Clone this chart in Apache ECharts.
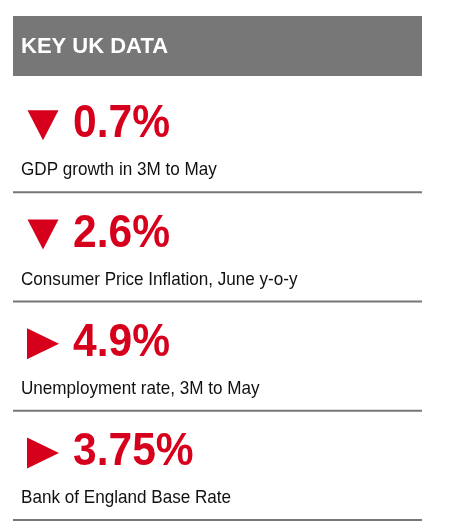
<!DOCTYPE html>
<html>
<head>
<meta charset="utf-8">
<script src="https://cdn.jsdelivr.net/npm/echarts@6/dist/echarts.min.js"></script>
<style>
  html, body { margin: 0; padding: 0; background: #fff; }
  #chart { width: 453px; height: 531px; }
</style>
</head>
<body>
<div id="chart"></div>
<script>
var titleText = 'KEY UK DATA';
var values = ['0.7%', '2.6%', '4.9%', '3.75%'];
var labels = [
    'GDP growth in 3M to May',
    'Consumer Price Inflation, June y-o-y',
    'Unemployment rate, 3M to May',
    'Bank of England Base Rate'
];
var directions = ['down', 'down', 'right', 'right'];

var red = '#d7001c';
var grey = '#777777';

var chart = echarts.init(document.getElementById('chart'));

function renderBlock(params, api) {
    var i = params.dataIndex;
    var p = api.coord([0, api.value(1)]);
    var band = api.size([0, 1])[1];
    var cy = p[1];

    var tri;
    if (directions[i] == 'down') {
        tri = [[27.5, cy - 27.5], [58.5, cy - 27.5], [43, cy + 2.5]];
    } else {
        tri = [[27, cy - 28], [59, cy - 12.5], [27, cy + 3]];
    }

    return {
        type: 'group',
        children: [
            {
                type: 'polygon',
                shape: { points: tri },
                style: { fill: red }
            },
            {
                type: 'text',
                x: 73,
                y: cy - 13,
                scaleX: 0.925,
                style: {
                    text: values[i],
                    x: 0, y: 0,
                    fill: red,
                    font: 'bold 46px "Liberation Sans", Arial, sans-serif',
                    verticalAlign: 'middle'
                }
            },
            {
                type: 'text',
                x: 21,
                y: cy + 32.5,
                scaleX: 0.9,
                style: {
                    text: labels[i],
                    x: 0, y: 0,
                    fill: '#111',
                    font: '19px "Liberation Sans", Arial, sans-serif',
                    verticalAlign: 'middle'
                }
            },
            {
                type: 'line',
                shape: { x1: 13, y1: cy + band / 2, x2: 422, y2: cy + band / 2 },
                style: { stroke: grey, lineWidth: 2 }
            }
        ]
    };
}

var option = {
    animation: false,
    backgroundColor: '#fff',
    grid: { left: 0, right: 0, top: 83, bottom: 11 },
    xAxis: { type: 'value', min: 0, max: 1, show: false },
    yAxis: { type: 'category', data: labels, inverse: true, show: false },
    graphic: [
        {
            type: 'rect',
            shape: { x: 13, y: 16, width: 409, height: 60 },
            style: { fill: grey }
        },
        {
            type: 'text',
            x: 21,
            y: 47,
            style: {
                text: titleText,
                fill: '#fff',
                font: 'bold 22px "Liberation Sans", Arial, sans-serif',
                verticalAlign: 'middle'
            }
        }
    ],
    series: [
        {
            type: 'custom',
            renderItem: renderBlock,
            data: values.map(function (v, i) { return [0, i]; })
        }
    ]
};

chart.setOption(option);
</script>
</body>
</html>
